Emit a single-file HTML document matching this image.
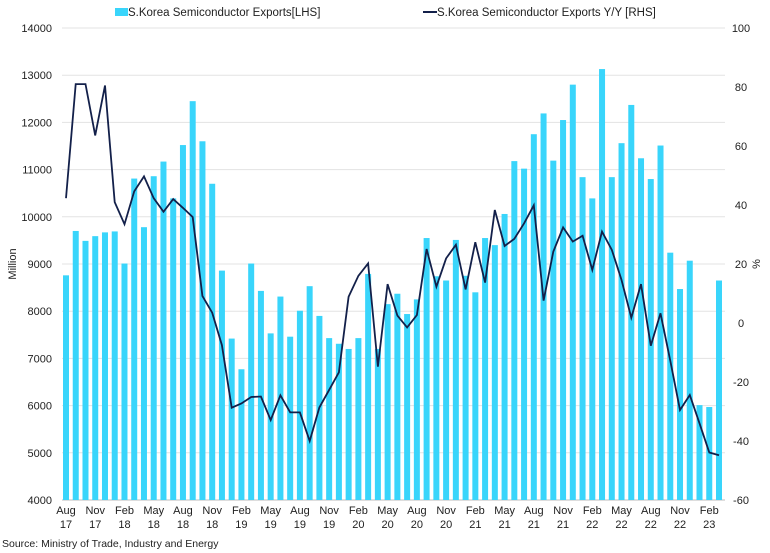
<!DOCTYPE html>
<html><head><meta charset="utf-8"><style>
body{margin:0;background:#fff;}
svg{display:block;font-family:"Liberation Sans",Arial,sans-serif;}
</style></head><body>
<svg id="chart" width="770" height="553" viewBox="0 0 770 553">
<g id="grid"></g>
<g id="bars"></g>
<g id="line"></g>
<g id="axes"></g>
<g>
<rect x="115" y="8" width="13" height="8" fill="#39d5fb"/>
<text x="128" y="16" font-size="11.5" fill="#222">S.Korea Semiconductor Exports[LHS]</text>
<line x1="423" y1="12" x2="437" y2="12" stroke="#13204a" stroke-width="2"/>
<text x="437" y="16" font-size="11.5" fill="#222">S.Korea Semiconductor Exports Y/Y [RHS]</text>
</g>
<text x="16" y="264" font-size="11" fill="#222" transform="rotate(-90 16 264)" text-anchor="middle">Million</text>
<text x="760" y="264" font-size="11" fill="#222" transform="rotate(-90 760 264)" text-anchor="middle">%</text>
<text x="2" y="547" font-size="10.5" fill="#222">Source: Ministry of Trade, Industry and Energy</text>
</svg>
<script>
const exportsVals=[8760,9700,9490,9590,9670,9690,9010,10810,9780,10860,11170,10390,11520,12450,11600,10700,8860,7420,6770,9010,8430,7530,8310,7460,8010,8530,7900,7430,7310,7200,7430,8790,7200,8150,8370,7940,8250,9550,8740,8650,9510,8750,8400,9550,9400,10060,11180,11020,11750,12190,11190,12050,12800,10840,10390,13130,10840,11560,12370,11240,10800,11510,9240,8470,9070,6010,5970,8650];
const yoyVals=[42.3,81,81,63.6,80.5,41,33.5,44.6,49.7,42.3,37.7,42,39,35.9,9.2,3.5,-7.5,-28.7,-27.3,-25.1,-24.9,-32.9,-24.5,-30.3,-30.3,-40,-28.6,-22.7,-16.7,8.9,16,20.2,-14.8,13.2,2.5,-1.5,2.7,25.1,12.3,21.9,26.5,11.4,27.4,13.7,38.3,26.1,28.5,33.8,39.9,7.6,24.2,32.4,27.6,29.6,18,31,24.8,14.6,1.8,13.2,-7.7,3.3,-12.8,-29.5,-24.4,-34,-43.9,-44.8];
const leftTicks=[4000,5000,6000,7000,8000,9000,10000,11000,12000,13000,14000];
const rightTicks=[-60,-40,-20,0,20,40,60,80,100];
const xLabels=[["Aug","17",0],["Nov","17",3],["Feb","18",6],["May","18",9],["Aug","18",12],["Nov","18",15],["Feb","19",18],["May","19",21],["Aug","19",24],["Nov","19",27],["Feb","20",30],["May","20",33],["Aug","20",36],["Nov","20",39],["Feb","21",42],["May","21",45],["Aug","21",48],["Nov","21",51],["Feb","22",54],["May","22",57],["Aug","22",60],["Nov","22",63],["Feb","23",66]];
const NS="http://www.w3.org/2000/svg";
const yTop=28,yBot=500,xLeft=62,xRight=725;
const yL=v=>yBot-(v-4000)/10000*(yBot-yTop);
const yR=v=>yBot-(v+60)/160*(yBot-yTop);
const nBars=exportsVals.length;
const xC=i=>66+i*(719-66)/(nBars-1);
function mk(t,a,p){const e=document.createElementNS(NS,t);for(const k in a)e.setAttribute(k,a[k]);p.appendChild(e);return e;}
const gGrid=document.getElementById('grid'),gBars=document.getElementById('bars'),gLine=document.getElementById('line'),gAx=document.getElementById('axes');
leftTicks.forEach(v=>{
  const ln=mk('line',{x1:xLeft,x2:xRight,y1:yL(v),y2:yL(v),stroke:v===4000?'#bbb':'#e3e3e3','stroke-width':1},gGrid);
  
  
  const t=mk('text',{x:52,y:yL(v)+4,'font-size':11,'text-anchor':'end',fill:'#222'},gAx);
  t.textContent=v;
  
  
});
rightTicks.forEach(v=>{
  const t=mk('text',{x:741,y:yR(v)+4,'font-size':11,'text-anchor':'middle',fill:'#222'},gAx);
  t.textContent=v;
  
  
});
exportsVals.forEach((v,i)=>{
  const r=mk('rect',{x:xC(i)-3,y:yL(v),width:6,height:yBot-yL(v),fill:'#39d5fb'},gBars);
  
  
});
const pts=yoyVals.map((v,i)=>xC(i).toFixed(1)+','+yR(v).toFixed(1)).join(' ');
const pl=mk('polyline',{points:pts,fill:'none',stroke:'#13204a','stroke-width':1.8,'stroke-linejoin':'miter'},gLine);


xLabels.forEach(([m,y,i])=>{
  const t=mk('text',{x:xC(i),y:514,'font-size':11,'text-anchor':'middle',fill:'#222'},gAx);
  t.textContent=m;
  
  
  const t2=mk('text',{x:xC(i),y:528,'font-size':11,'text-anchor':'middle',fill:'#222'},gAx);
  t2.textContent=y;
  
  
});
</script>
</body></html>
